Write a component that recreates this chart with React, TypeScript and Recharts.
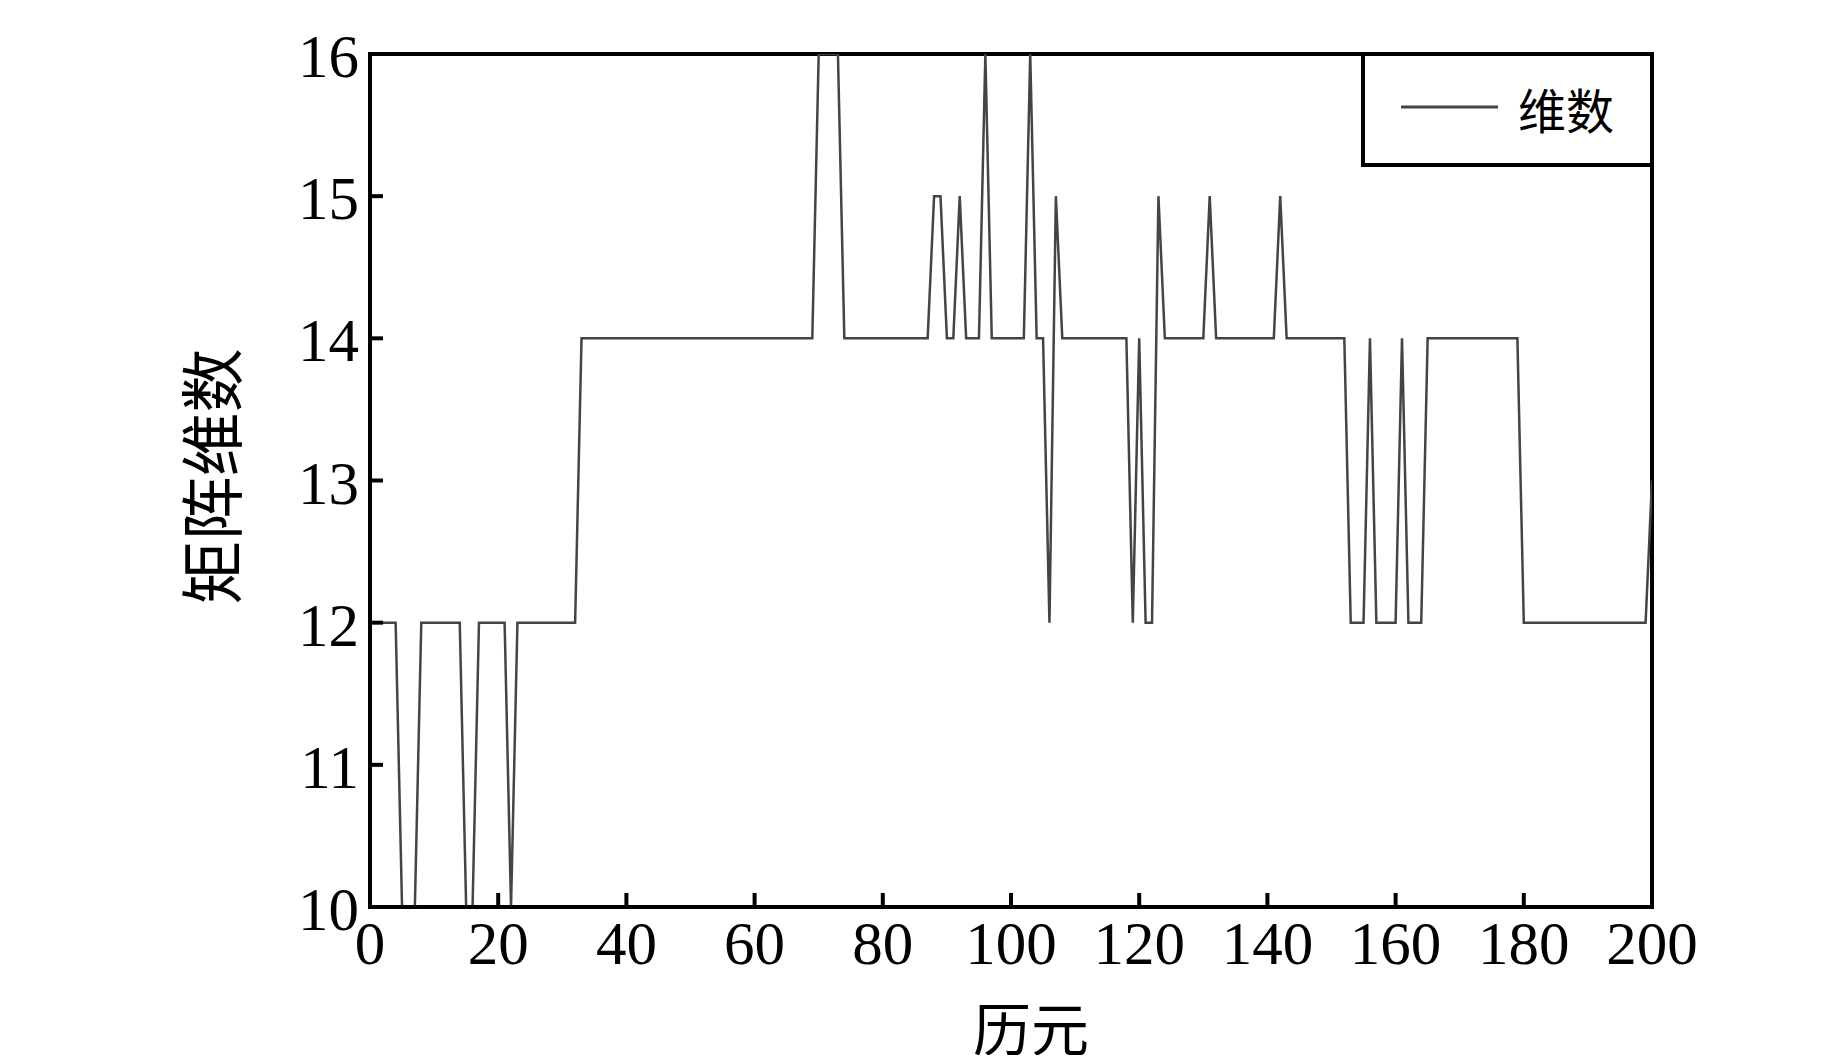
import React from "react";
import { LineChart, Line, XAxis, YAxis, ReferenceArea, Legend, Label } from "recharts";

// epochs 1..200 (x categories)
const epochs: number[] = Array.from({ length: 200 }, (_, i) => i + 1);

// matrix dimension per epoch
const dims: number[] = [
  12, 12, 12, 12, 10, 10, 10, 12, 12, 12, // 1-10
  12, 12, 12, 12, 10, 10, 12, 12, 12, 12, // 11-20
  12, 10, 12, 12, 12, 12, 12, 12, 12, 12, // 21-30
  12, 12, 14, 14, 14, 14, 14, 14, 14, 14, // 31-40
  14, 14, 14, 14, 14, 14, 14, 14, 14, 14, // 41-50
  14, 14, 14, 14, 14, 14, 14, 14, 14, 14, // 51-60
  14, 14, 14, 14, 14, 14, 14, 14, 14, 16, // 61-70
  16, 16, 16, 14, 14, 14, 14, 14, 14, 14, // 71-80
  14, 14, 14, 14, 14, 14, 14, 15, 15, 14, // 81-90
  14, 15, 14, 14, 14, 16, 14, 14, 14, 14, // 91-100
  14, 14, 16, 14, 14, 12, 15, 14, 14, 14, // 101-110
  14, 14, 14, 14, 14, 14, 14, 14, 12, 14, // 111-120
  12, 12, 15, 14, 14, 14, 14, 14, 14, 14, // 121-130
  15, 14, 14, 14, 14, 14, 14, 14, 14, 14, // 131-140
  14, 15, 14, 14, 14, 14, 14, 14, 14, 14, // 141-150
  14, 14, 12, 12, 12, 14, 12, 12, 12, 12, // 151-160
  14, 12, 12, 12, 14, 14, 14, 14, 14, 14, // 161-170
  14, 14, 14, 14, 14, 14, 14, 14, 14, 12, // 171-180
  12, 12, 12, 12, 12, 12, 12, 12, 12, 12, // 181-190
  12, 12, 12, 12, 12, 12, 12, 12, 12, 13, // 191-200
];

const xTicks: number[] = [0, 20, 40, 60, 80, 100, 120, 140, 160, 180, 200];
const yTicks: number[] = [10, 11, 12, 13, 14, 15, 16];
const seriesName = "维数";
const xTitle = "历元";
const yTitle = "矩阵维数";

const data = epochs.map((e, i) => ({ epoch: e, dim: dims[i] }));

const SERIF = "'Liberation Serif', 'Times New Roman', serif";
const CJK = "'Noto Sans CJK SC', 'Noto Sans', sans-serif";
const LINE_COLOR = "#444444";

const XTick = (props: any) => {
  const { x, y, payload } = props;
  return (
    <g>
      <line x1={x} y1={y} x2={x} y2={y - 14} stroke="#000" strokeWidth={4} />
      <text x={x} y={y + 56.5} textAnchor="middle" fontFamily={SERIF} fontSize={61} fill="#000">
        {payload.value}
      </text>
    </g>
  );
};

const YTick = (props: any) => {
  const { x, y, payload } = props;
  return (
    <g>
      <line x1={x} y1={y} x2={x + 13} y2={y} stroke="#000" strokeWidth={4} />
      <text x={x - 11} y={y + 23} textAnchor="end" fontFamily={SERIF} fontSize={61} fill="#000">
        {payload.value}
      </text>
    </g>
  );
};

const LegendBox = () => (
  <svg width={291} height={113} style={{ display: "block" }}>
    <line x1={2} y1={0} x2={2} y2={113} stroke="#000" strokeWidth={4} />
    <line x1={0} y1={111} x2={291} y2={111} stroke="#000" strokeWidth={4} />
    <line x1={40} y1={53} x2={137} y2={53} stroke={LINE_COLOR} strokeWidth={3} />
    <text x={157} y={54} dominantBaseline="central" fontFamily={CJK} fontSize={48} fill="#000">
      {seriesName}
    </text>
  </svg>
);

export default function App() {
  return (
    <LineChart
      width={1827}
      height={1047}
      data={data}
      style={{ overflow: "visible" }}
      margin={{ top: 46, right: 183, bottom: 88, left: 162 }}
    >
      <XAxis
        dataKey="epoch"
        type="number"
        domain={[0, 200]}
        ticks={xTicks}
        interval={0}
        allowDataOverflow
        axisLine={{ stroke: "#000", strokeWidth: 4 }}
        tickLine={false}
        tickSize={0}
        tickMargin={0}
        height={60}
        tick={<XTick />}
      >
        <Label
          content={(p: any) => {
            const vb = p.viewBox;
            return (
              <text
                x={vb.x + vb.width / 2 + 20}
                y={vb.y + 119}
                textAnchor="middle"
                dominantBaseline="central"
                fontFamily={CJK}
                fontSize={58}
                fill="#000"
              >
                {xTitle}
              </text>
            );
          }}
        />
      </XAxis>
      <YAxis
        type="number"
        domain={[10, 16]}
        ticks={yTicks}
        interval={0}
        allowDataOverflow
        axisLine={{ stroke: "#000", strokeWidth: 4 }}
        tickLine={false}
        tickSize={0}
        tickMargin={0}
        width={200}
        tick={<YTick />}
      >
        <Label
          content={(p: any) => {
            const vb = p.viewBox;
            const cx = vb.x + 38;
            const cy = vb.y + vb.height / 2 - 4;
            return (
              <text
                x={cx}
                y={cy}
                transform={`rotate(-90, ${cx}, ${cy})`}
                textAnchor="middle"
                dominantBaseline="central"
                fontFamily={CJK}
                fontSize={64}
                fill="#000"
              >
                {yTitle}
              </text>
            );
          }}
        />
      </YAxis>
      <ReferenceArea
        x1={0}
        x2={200}
        y1={10}
        y2={16}
        fill="none"
        fillOpacity={0}
        stroke="#000"
        strokeWidth={4}
        ifOverflow="visible"
      />
      <Line
        type="linear"
        dataKey="dim"
        name={seriesName}
        stroke={LINE_COLOR}
        strokeWidth={2.5}
        dot={false}
        activeDot={false}
        isAnimationActive={false}
      />
      <Legend
        layout="horizontal"
        align="center"
        verticalAlign="middle"
        width={291}
        height={113}
        wrapperStyle={{ left: 1353, top: 46, width: 291, height: 113 }}
        content={() => <LegendBox />}
      />
    </LineChart>
  );
}
